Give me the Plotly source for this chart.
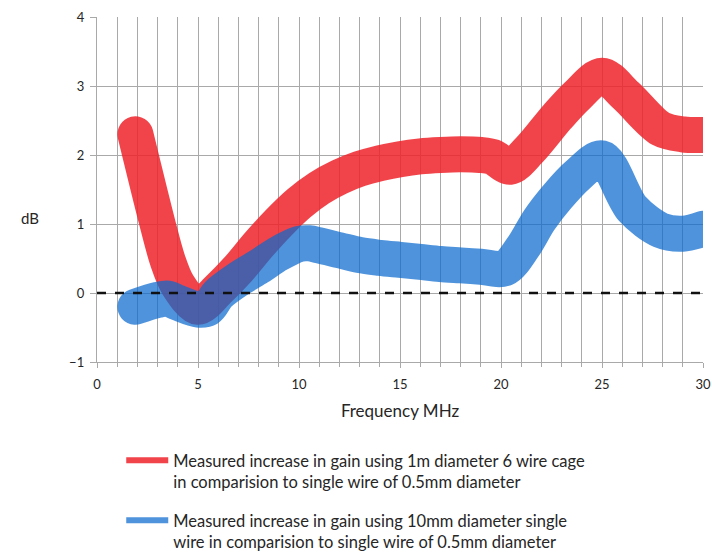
import plotly.graph_objects as go

# Frequency (MHz) and measured gain increase (dB) for each antenna variant
cage_freq = [1.9, 3.0, 3.5, 4.0, 5.0, 6.0, 7.0, 8.0, 9.0, 10.0, 11.0, 12.0, 13.0, 14.0,
             15.0, 16.0, 17.0, 18.0, 19.0, 19.6, 20.45, 21.4, 22.8, 23.8, 25.0,
             26.2, 27.9, 29.0, 30.0]
cage_gain = [2.3, 1.0, 0.47, 0.12, -0.2, 0.05, 0.35, 0.7, 1.02, 1.3, 1.52, 1.68, 1.8, 1.88,
             1.94, 1.98, 2.0, 2.01, 2.0, 1.97, 1.83, 2.07, 2.56, 2.87, 3.15,
             2.86, 2.38, 2.3, 2.29]

wire_freq = [1.9, 3.0, 3.5, 4.0, 5.0, 5.5, 6.0, 7.0, 8.0, 9.0, 10.0, 10.5, 11.0, 12.0,
             13.0, 14.0, 15.0, 16.0, 17.0, 18.0, 19.0, 20.2, 21.1, 21.9, 22.8, 23.8,
             25.0, 26.5, 27.9, 29.0, 30.0]
wire_gain = [-0.2, -0.1, -0.08, -0.14, -0.24, -0.22, -0.02, 0.2, 0.38, 0.57, 0.71, 0.72,
             0.69, 0.62, 0.55, 0.51, 0.48, 0.45, 0.42, 0.4, 0.38, 0.36, 0.67, 1.06, 1.4,
             1.71, 1.95, 1.22, 0.91, 0.86, 0.93]

cage_name = "Measured increase in gain using 1m diameter 6 wire cage<br>in comparision to single wire of 0.5mm diameter"
wire_name = "Measured increase in gain using 10mm diameter single<br>wire in comparision to single wire of 0.5mm diameter"

x_range = [0, 30]
y_range = [-1, 4]
x_ticks = [0, 5, 10, 15, 20, 25, 30]
y_ticks = [-1, 0, 1, 2, 3, 4]

GRID = "#A9A9A9"
TEXT = "#262626"
FONT = "Lato, 'Open Sans', sans-serif"
RED = "rgba(238,35,42,0.85)"
BLUE = "rgba(10,105,205,0.72)"

fig = go.Figure()
fig.add_trace(go.Scatter(
    x=cage_freq, y=cage_gain, mode="lines", name=cage_name, legendgroup="cage",
    showlegend=False,
    line=dict(color=RED, width=36, shape="spline", smoothing=0.9),
    hoverinfo="skip",
))
fig.add_trace(go.Scatter(
    x=wire_freq, y=wire_gain, mode="lines", name=wire_name, legendgroup="wire",
    showlegend=False,
    line=dict(color=BLUE, width=36, shape="spline", smoothing=0.9),
    hoverinfo="skip",
))
# legend entries with a slimmer line sample
fig.add_trace(go.Scatter(x=[None], y=[None], mode="lines", name=cage_name,
                         legendgroup="cage", line=dict(color=RED, width=6)))
fig.add_trace(go.Scatter(x=[None], y=[None], mode="lines", name=wire_name,
                         legendgroup="wire", line=dict(color=BLUE, width=6)))

# dashed zero reference line
fig.add_shape(type="line", x0=x_range[0], x1=x_range[1], y0=0, y1=0,
              xref="x", yref="y", layer="above",
              line=dict(color="#111111", width=2.5, dash="dash"))

# horizontal axis label for dB
fig.add_annotation(text="dB", xref="paper", yref="y", x=-0.11, y=1.08,
                   showarrow=False, font=dict(family=FONT, size=15, color=TEXT),
                   xanchor="center", yanchor="middle")

fig.update_xaxes(
    range=x_range, tickvals=x_ticks, showgrid=True, gridcolor=GRID, gridwidth=1.4,
    minor=dict(dtick=1, showgrid=True, gridcolor=GRID, gridwidth=1.4,
               ticks="outside", ticklen=4, tickcolor=GRID),
    ticks="outside", ticklen=5, tickcolor=GRID, ticklabelstandoff=5,
    showline=True, linecolor=GRID, linewidth=1.4, mirror=False,
    zeroline=False, fixedrange=True,
    tickfont=dict(family=FONT, size=13, color=TEXT),
    title=dict(text="Frequency MHz", font=dict(family=FONT, size=17, color=TEXT), standoff=14),
)
fig.update_yaxes(
    range=y_range, tickvals=y_ticks, showgrid=True, gridcolor=GRID, gridwidth=1.4,
    ticks="outside", ticklen=6, tickcolor=GRID, ticklabelstandoff=3,
    showline=True, linecolor=GRID, linewidth=1.4,
    zeroline=False, fixedrange=True,
    tickfont=dict(family=FONT, size=13, color=TEXT),
)

fig.update_layout(
    width=712, height=557,
    margin=dict(l=97, r=9, t=17, b=195, autoexpand=False),
    paper_bgcolor="white", plot_bgcolor="white",
    font=dict(family=FONT, color=TEXT),
    legend=dict(
        x=0.04, y=-0.235, xanchor="left", yanchor="top",
        font=dict(family=FONT, size=16.5, color=TEXT),
        bgcolor="rgba(0,0,0,0)", itemwidth=42, valign="top",
        tracegroupgap=14, traceorder="grouped",
    ),
    showlegend=True,
)

# round line caps on the thick data lines
post = """
var gd = document.getElementById('{plot_id}');
function roundCaps() {
  gd.querySelectorAll('.scatterlayer .js-line').forEach(function(p){
    p.style.strokeLinecap = 'round';
    p.style.strokeLinejoin = 'round';
  });
}
roundCaps();
gd.on('plotly_afterplot', roundCaps);
"""
fig.write_html("out.html", post_script=post)
